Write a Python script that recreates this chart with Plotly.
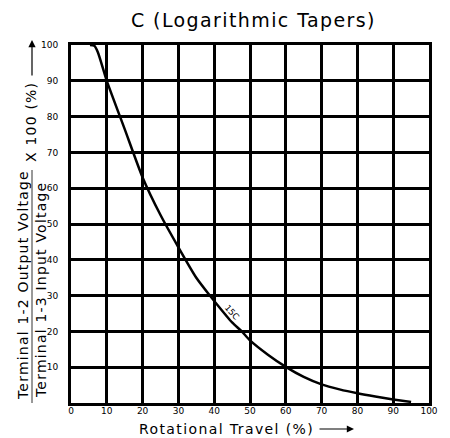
import plotly.graph_objects as go

# Data
travel = [5.3, 6.5, 7.5, 10, 15, 20, 25, 30, 35, 38.8, 40, 45, 47.7, 50, 55, 60, 65, 70, 75, 80, 85, 90, 95]
output = [100, 99.8, 98, 90, 76.5, 63, 52.5, 43.5, 35, 30, 28.5, 22.5, 20, 17.5, 13.5, 10.1, 7.3, 5.2, 3.8, 2.7, 1.8, 1.0, 0.3]
tick_vals = [0, 10, 20, 30, 40, 50, 60, 70, 80, 90, 100]
y_tick_vals = [10, 20, 30, 40, 50, 60, 70, 80, 90, 100]
curve_label = "15C"
curve_label_pos = (45, 25.5)

FONT = "DejaVu Sans"
W, H = 450, 438
L, R, T, B = 71, 21, 45, 35
PW, PH = W - L - R, H - T - B


def px(xp):
    return (xp - L) / PW


def py(yp):
    return (H - B - yp) / PH


def spaced(s, ls):
    return '<span style="letter-spacing:%.2fpx">%s</span>' % (ls, s)


fig = go.Figure()
fig.add_trace(go.Scatter(
    x=travel, y=output, mode="lines",
    line=dict(color="black", width=2.5, shape="spline", smoothing=0.6),
    showlegend=False, hoverinfo="skip",
))

axis_common = dict(
    showgrid=True, gridcolor="black", gridwidth=3,
    showline=True, linecolor="black", linewidth=3, mirror=True,
    zeroline=False, ticks="", tickfont=dict(family=FONT, size=9, color="black"),
)
fig.update_xaxes(range=[0, 100], tickvals=tick_vals, ticklabelstandoff=-3, **axis_common)
fig.update_yaxes(range=[0, 100], tickvals=y_tick_vals, ticklabelstandoff=8, **axis_common)

ann = []
ann.append(dict(text=spaced("C (Logarithmic Tapers)", 1.4), x=px(253), y=py(20), xref="paper", yref="paper",
                xanchor="center", yanchor="middle",
                showarrow=False, font=dict(family=FONT, size=19, color="black")))
ann.append(dict(text=spaced("Rotational Travel (%)", 1.4), x=px(226), y=py(429), xref="paper", yref="paper",
                xanchor="center", yanchor="middle",
                showarrow=False, font=dict(family=FONT, size=14, color="black")))
ann.append(dict(text="", x=px(354), y=py(429), xref="paper", yref="paper",
                showarrow=True, ax=-36, ay=0, arrowhead=2, arrowsize=1.2, arrowwidth=1.2,
                arrowcolor="black"))
ann.append(dict(text=spaced("Terminal 1-2 Output Voltage", 1.2), x=px(23), y=py(402), xref="paper", yref="paper",
                showarrow=False, textangle=-90, xanchor="center", yanchor="bottom",
                font=dict(family=FONT, size=14, color="black")))
ann.append(dict(text=spaced("Terminal 1-3 Input Voltage", 1.2), x=px(41), y=py(400), xref="paper", yref="paper",
                showarrow=False, textangle=-90, xanchor="center", yanchor="bottom",
                font=dict(family=FONT, size=14, color="black")))
ann.append(dict(text=spaced("X 100 (%)", 1.2), x=px(31), y=py(80), xref="paper", yref="paper",
                showarrow=False, textangle=-90, xanchor="center", yanchor="top",
                font=dict(family=FONT, size=14, color="black")))
ann.append(dict(text="", x=px(32), y=py(40), xref="paper", yref="paper",
                showarrow=True, ax=0, ay=37, arrowhead=2, arrowsize=1.2, arrowwidth=1.2,
                arrowcolor="black"))
ann.append(dict(text=curve_label, x=curve_label_pos[0], y=curve_label_pos[1], xref="x", yref="y",
                showarrow=False, textangle=48, font=dict(family=FONT, size=8.5, color="black")))

fig.add_shape(type="line", xref="paper", yref="paper",
              x0=px(32), x1=px(32), y0=py(403), y1=py(170),
              line=dict(color="#333333", width=1))

fig.update_layout(
    width=W, height=H,
    margin=dict(l=L, r=R, t=T, b=B),
    paper_bgcolor="white", plot_bgcolor="white",
    annotations=ann,
    font=dict(family=FONT),
)

fig.write_html("out.html", config={"displayModeBar": False},
               post_script="document.body.style.margin='0';")
